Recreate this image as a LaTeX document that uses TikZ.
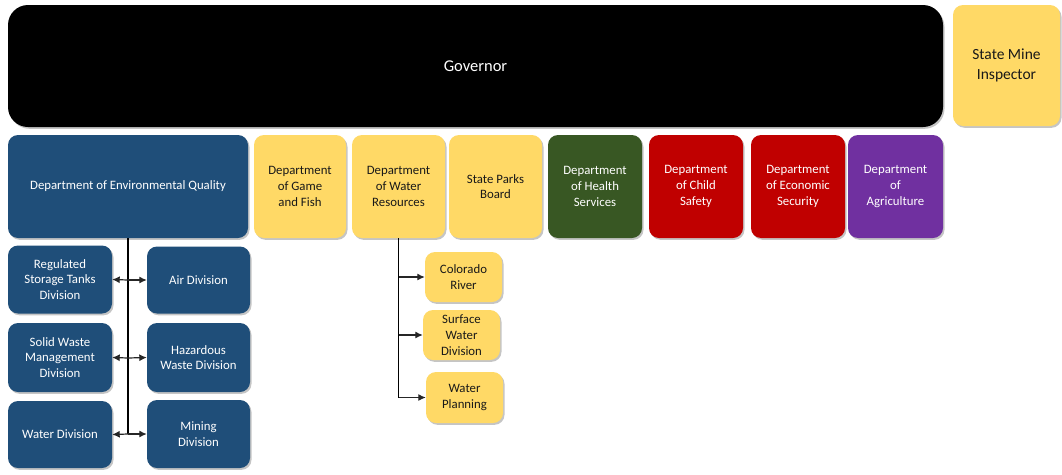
\documentclass[tikz,border=0pt]{standalone}
\usepackage{fontspec}
\setmainfont{Carlito}
\usetikzlibrary{shadows,arrows.meta}
\definecolor{deqblue}{HTML}{1F4E79}
\definecolor{yel}{HTML}{FFD966}
\definecolor{grn}{HTML}{385723}
\definecolor{rd}{HTML}{C00000}
\definecolor{purp}{HTML}{7030A0}
\tikzset{
  box/.style={rounded corners=10pt, inner sep=2pt, align=center,
    font=\fontsize{12.8}{15.8}\selectfont,
    drop shadow={shadow xshift=1.5pt, shadow yshift=-1.8pt, opacity=0.45}},
  bluebox/.style={box, fill=deqblue, text=white},
  yelbox/.style={box, fill=yel, text=black!90},
  grnbox/.style={box, fill=grn, text=white},
  redbox/.style={box, fill=rd, text=white},
  purbox/.style={box, fill=purp, text=white},
  conn/.style={draw=black, line width=1.7pt},
  arr/.style={draw=black!85, line width=1.2pt, -{Latex[length=7.5pt,width=7pt]}},
}
\begin{document}
\begin{tikzpicture}[x=1pt,y=-1pt]
\useasboundingbox[fill=white] (0,0) rectangle (1062,474);
% top row
\node[box, rounded corners=20pt, fill=black, text=white, font=\fontsize{16.5}{20}\selectfont, minimum width=935pt, minimum height=122pt] (gov) at (475.5,66) {Governor};
\node[yelbox, font=\fontsize{15.5}{20}\selectfont, minimum width=107pt, minimum height=121pt] (smi) at (1006.5,65.5) {State Mine\\Inspector};
% second row
\node[bluebox, minimum width=240pt, minimum height=103pt] (deq) at (128,186.5) {Department of Environmental Quality};
\node[yelbox, minimum width=92pt, minimum height=103pt] (gf) at (300,186.5) {Department\\of Game\\and Fish};
\node[yelbox, minimum width=93pt, minimum height=103pt] (wr) at (398.5,186.5) {Department\\of Water\\Resources};
\node[yelbox, minimum width=93pt, minimum height=103pt] (sp) at (495.5,186.5) {State Parks\\Board};
\node[grnbox, minimum width=94pt, minimum height=103pt] (hs) at (595,186.5) {Department\\of Health\\Services};
\node[redbox, minimum width=94pt, minimum height=103pt] (cs) at (696,186.5) {Department\\of Child\\Safety};
\node[redbox, minimum width=94pt, minimum height=103pt] (es) at (798,186.5) {Department\\of Economic\\Security};
\node[purbox, minimum width=95pt, minimum height=103pt] (ag) at (895.5,186.5) {Department\\of\\Agriculture};
% DEQ divisions
\node[bluebox, minimum width=104pt, minimum height=68pt] (rst) at (60,279.5) {Regulated\\Storage Tanks\\Division};
\node[bluebox, minimum width=104pt, minimum height=69pt] (sw) at (60,357.5) {Solid Waste\\Management\\Division};
\node[bluebox, minimum width=104pt, minimum height=67pt] (wd) at (60,434.5) {Water Division};
\node[bluebox, minimum width=103pt, minimum height=67pt] (air) at (198.5,280) {Air Division};
\node[bluebox, minimum width=103pt, minimum height=69pt] (hw) at (198.5,357.5) {Hazardous\\Waste Division};
\node[bluebox, minimum width=103pt, minimum height=68pt] (mn) at (198.5,434) {Mining\\Division};
% water resources sub-units
\node[yelbox, minimum width=77pt, minimum height=50pt] (cr) at (463.5,277) {Colorado\\River};
\node[yelbox, minimum width=77pt, minimum height=50pt] (swd) at (461.5,335) {Surface\\Water\\Division};
\node[yelbox, minimum width=77pt, minimum height=51pt] (wp) at (464.5,397.5) {Water\\Planning};
% connectors DEQ
\coordinate (t1) at (128,280);
\coordinate (t2) at (128,358);
\coordinate (t3) at (128,434);
\draw[conn] (deq.south) -- (t3);
\draw[arr] (t1) -- (rst.east);
\draw[arr] (t1) -- (air.west);
\draw[arr] (t2) -- (sw.east);
\draw[arr] (t2) -- (hw.west);
\draw[arr] (t3) -- (wd.east);
\draw[arr] (t3) -- (mn.west);
% connectors WR
\coordinate (w3) at (wr.south |- wp.west);
\draw[conn] (wr.south) -- (w3);
\draw[arr] (wr.south |- cr.west) -- (cr.west);
\draw[arr] (wr.south |- swd.west) -- (swd.west);
\draw[arr] (w3) -- (wp.west);
\end{tikzpicture}
\end{document}
